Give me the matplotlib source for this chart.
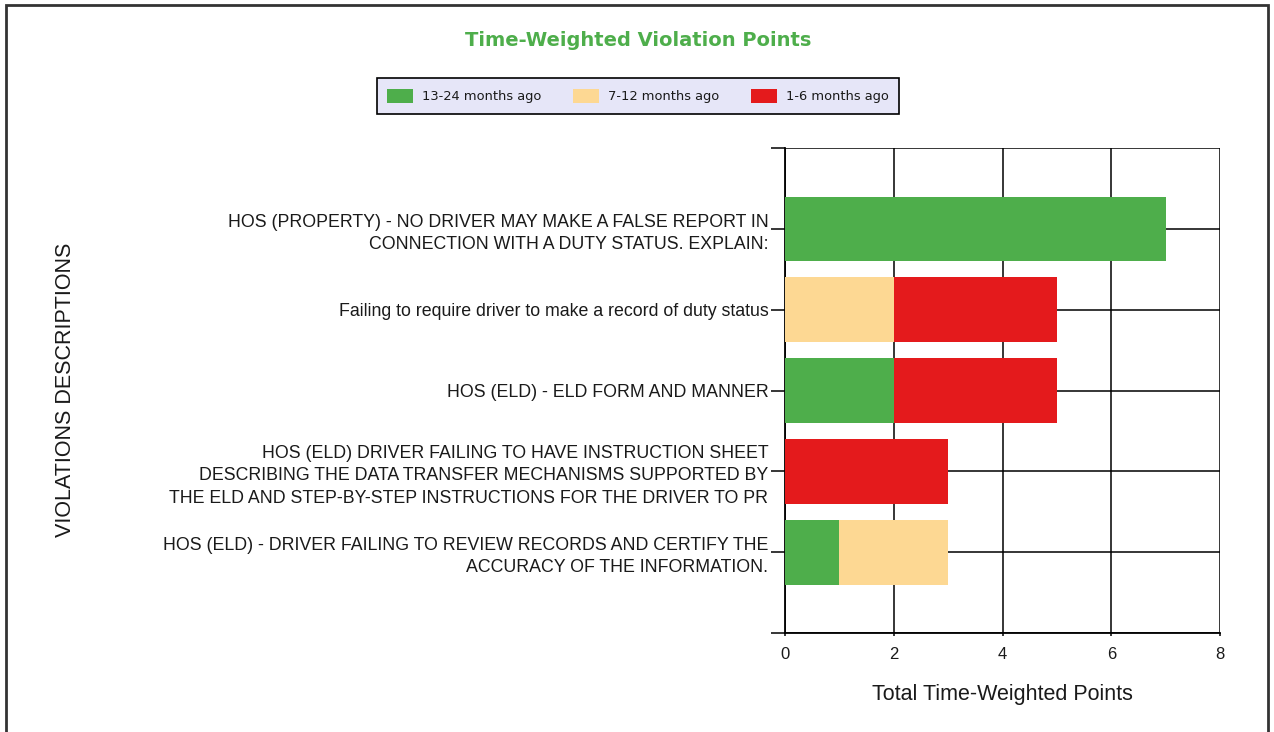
import numpy as np
import matplotlib.pyplot as plt
from matplotlib.patches import Rectangle

violations = [
    "HOS (PROPERTY) - NO DRIVER MAY MAKE A FALSE REPORT IN\nCONNECTION WITH A DUTY STATUS. EXPLAIN:",
    "Failing to require driver to make a record of duty status",
    "HOS (ELD) - ELD FORM AND MANNER",
    "HOS (ELD) DRIVER FAILING TO HAVE INSTRUCTION SHEET\nDESCRIBING THE DATA TRANSFER MECHANISMS SUPPORTED BY\nTHE ELD AND STEP-BY-STEP INSTRUCTIONS FOR THE DRIVER TO PR",
    "HOS (ELD) - DRIVER FAILING TO REVIEW RECORDS AND CERTIFY THE\nACCURACY OF THE INFORMATION.",
]
pts_13_24 = [7, 0, 2, 0, 1]
pts_7_12 = [0, 2, 0, 0, 2]
pts_1_6 = [0, 3, 3, 3, 0]
series_names = ["13-24 months ago", "7-12 months ago", "1-6 months ago"]
colors = ["#4EAE4B", "#FDD893", "#E41A1C"]

fig = plt.figure(figsize=(12.74, 7.32), dpi=100)
ax = fig.add_axes([785/1274, 1-633/732, 435/1274, 485/732])

y = np.arange(len(violations))
left = np.zeros(len(violations))
for vals, name, c in zip([pts_13_24, pts_7_12, pts_1_6], series_names, colors):
    vals = np.array(vals, dtype=float)
    ax.barh(y, vals, left=left, height=0.8, color=c, label=name, zorder=3)
    left += vals

ax.set_ylim(len(violations), -1)
ax.set_xlim(0, 8)
ax.set_xticks([0, 2, 4, 6, 8])
ax.set_yticks(np.arange(-1, len(violations) + 1))
ax.set_yticklabels([""] + violations + [""], linespacing=1.4, fontsize=12.8,
                   family="Liberation Sans", color="#1a1a1a")
ax.grid(True, color="black", linewidth=1.1, zorder=0)
ax.set_axisbelow(True)

for s in ["top", "right"]:
    ax.spines[s].set_visible(False)
ax.spines["left"].set_linewidth(1.3)
ax.spines["bottom"].set_linewidth(1.3)
ax.tick_params(axis="y", length=10, width=1.1, pad=2)
ax.tick_params(axis="x", length=2, width=1.1, pad=8, labelsize=12)
for lbl in ax.get_xticklabels():
    lbl.set_fontfamily("Liberation Sans")
    lbl.set_color("#1a1a1a")

ax.set_xlabel("Total Time-Weighted Points", fontsize=15.5, family="Liberation Sans", labelpad=16, color="#1a1a1a")
fig.text(66/1274, 1-390/732, "VIOLATIONS DESCRIPTIONS", rotation=90, fontsize=15.5,
         family="Liberation Sans", ha="center", va="center", color="#1a1a1a")

fig.text(638/1274, 1-40/732, "Time-Weighted Violation Points", fontsize=14, fontweight="bold",
         color="#4EAE4B", ha="center", va="center")

leg = fig.legend(loc="center", bbox_to_anchor=(638/1274, 1-96/732), ncol=3, frameon=True,
                 fancybox=False, edgecolor="black", facecolor="#E6E6F8", fontsize=9.4,
                 handlelength=2.0, handleheight=1.3, handletextpad=0.7, columnspacing=2.4,
                 borderpad=0.8)
leg.get_frame().set_linewidth(1.2)
leg.get_frame().set_alpha(1)
for t in leg.get_texts():
    t.set_color("#1a1a1a")

fig.patches.append(Rectangle((6/1274, -0.05), 1262/1274, 1.05 - 5/732, transform=fig.transFigure,
                             fill=False, edgecolor="#333333", linewidth=2))

fig.savefig("out.png", dpi=100)
